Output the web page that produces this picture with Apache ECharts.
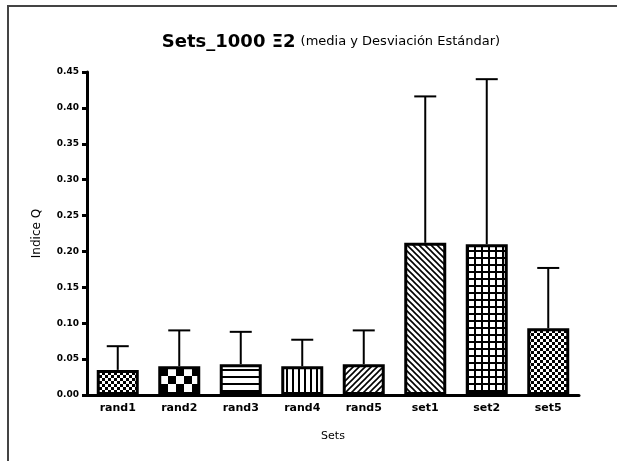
<!DOCTYPE html>
<html>
<head>
<meta charset="utf-8">
<script src="https://cdn.jsdelivr.net/npm/echarts@6/dist/echarts.min.js"></script>
<style>
  html, body { margin: 0; padding: 0; background: #fff; }
  #chart { width: 617px; height: 461px; }
</style>
</head>
<body>
<div id="chart"></div>
<script>
const categories = ['rand1', 'rand2', 'rand3', 'rand4', 'rand5', 'set1', 'set2', 'set5'];
const means = [0.035, 0.040, 0.043, 0.040, 0.043, 0.212, 0.210, 0.093];
const sds = [0.033, 0.050, 0.045, 0.037, 0.047, 0.204, 0.230, 0.084];
const patternKinds = ['checkSmall', 'checkBig', 'hlines', 'vlines', 'diagUp', 'diagDown', 'grid', 'checkSmall'];

// hatch fills drawn on tiny canvases
function makePattern(kind) {
  const c = document.createElement('canvas');
  const ctx = c.getContext('2d');
  let s = 6;
  if (kind === 'checkBig') s = 16;
  if (kind === 'hlines' || kind === 'grid') s = 7;
  c.width = s; c.height = s;
  ctx.fillStyle = '#fff';
  ctx.fillRect(0, 0, s, s);
  ctx.fillStyle = '#000';
  ctx.strokeStyle = '#000';
  if (kind === 'checkSmall' || kind === 'checkBig') {
    const h = s / 2;
    ctx.fillRect(0, 0, h, h);
    ctx.fillRect(h, h, h, h);
  } else if (kind === 'hlines') {
    ctx.fillRect(0, s - 2, s, 2);
  } else if (kind === 'vlines') {
    ctx.fillRect(s - 2, 0, 2, s);
  } else if (kind === 'grid') {
    ctx.fillRect(0, s - 2, s, 2);
    ctx.fillRect(s - 2, 0, 2, s);
  } else {
    ctx.lineWidth = 1.6;
    ctx.beginPath();
    if (kind === 'diagUp') {
      ctx.moveTo(0, s); ctx.lineTo(s, 0);
      ctx.moveTo(-1, 1); ctx.lineTo(1, -1);
      ctx.moveTo(s - 1, s + 1); ctx.lineTo(s + 1, s - 1);
    } else {
      ctx.moveTo(0, 0); ctx.lineTo(s, s);
      ctx.moveTo(-1, s - 1); ctx.lineTo(1, s + 1);
      ctx.moveTo(s - 1, -1); ctx.lineTo(s + 1, 1);
    }
    ctx.stroke();
  }
  return { image: c, repeat: 'repeat' };
}

const barData = means.map((v, i) => ({
  value: v,
  itemStyle: { color: makePattern(patternKinds[i]) }
}));
const errData = means.map((v, i) => [i, v, sds[i]]);

const chart = echarts.init(document.getElementById('chart'));
chart.setOption({
  animation: false,
  backgroundColor: '#fff',
  title: {
    text: '{b|Sets_1000 Ξ2} {s|(media y Desviación Estándar)}',
    left: 326,
    textAlign: 'center',
    top: 28,
    textStyle: {
      rich: {
        b: { fontFamily: 'DejaVu Sans', fontWeight: 'bold', fontSize: 18, color: '#000' },
        s: { fontFamily: 'DejaVu Sans', fontWeight: 'normal', fontSize: 13, color: '#000' }
      }
    }
  },
  graphic: [{
    type: 'polyline',
    shape: { points: [[8, 470], [8, 6], [630, 6]] },
    style: { stroke: '#444', lineWidth: 2, fill: null }
  }],
  grid: { left: 87, right: 38, top: 72, bottom: 66 },
  xAxis: {
    type: 'category',
    data: categories,
    name: 'Sets',
    nameLocation: 'middle',
    nameGap: 36,
    nameTextStyle: { fontFamily: 'DejaVu Sans', fontSize: 11, color: '#000' },
    axisLine: { lineStyle: { color: '#000', width: 3 } },
    axisTick: { alignWithLabel: true, length: 5, lineStyle: { color: '#000', width: 3 } },
    axisLabel: { fontFamily: 'DejaVu Sans', fontWeight: 'bold', fontSize: 11, color: '#000', margin: 8 }
  },
  yAxis: {
    type: 'value',
    min: 0,
    max: 0.45,
    interval: 0.05,
    name: 'Indice Q',
    nameLocation: 'middle',
    nameGap: 44,
    nameTextStyle: { fontFamily: 'DejaVu Sans', fontSize: 12, color: '#000' },
    splitLine: { show: false },
    axisLine: { show: true, lineStyle: { color: '#000', width: 3 } },
    axisTick: { show: true, length: 5, lineStyle: { color: '#000', width: 3 } },
    axisLabel: {
      fontFamily: 'DejaVu Sans', fontWeight: 'bold', fontSize: 9, color: '#000', margin: 8,
      formatter: v => v.toFixed(2)
    }
  },
  series: [
    {
      type: 'bar',
      data: barData,
      barWidth: 42,
      itemStyle: { borderColor: '#000', borderWidth: 3 },
      z: 2
    },
    {
      type: 'custom',
      data: errData,
      z: 1,
      renderItem: (params, api) => {
        const i = api.value(0);
        const m = api.value(1);
        const sd = api.value(2);
        const base = api.coord([i, m]);
        const top = api.coord([i, m + sd]);
        const half = 11;
        return {
          type: 'group',
          children: [
            { type: 'line', shape: { x1: base[0], y1: base[1], x2: top[0], y2: top[1] },
              style: { stroke: '#000', lineWidth: 2 } },
            { type: 'line', shape: { x1: top[0] - half, y1: top[1], x2: top[0] + half, y2: top[1] },
              style: { stroke: '#000', lineWidth: 2 } }
          ]
        };
      }
    }
  ]
});
</script>
</body>
</html>
